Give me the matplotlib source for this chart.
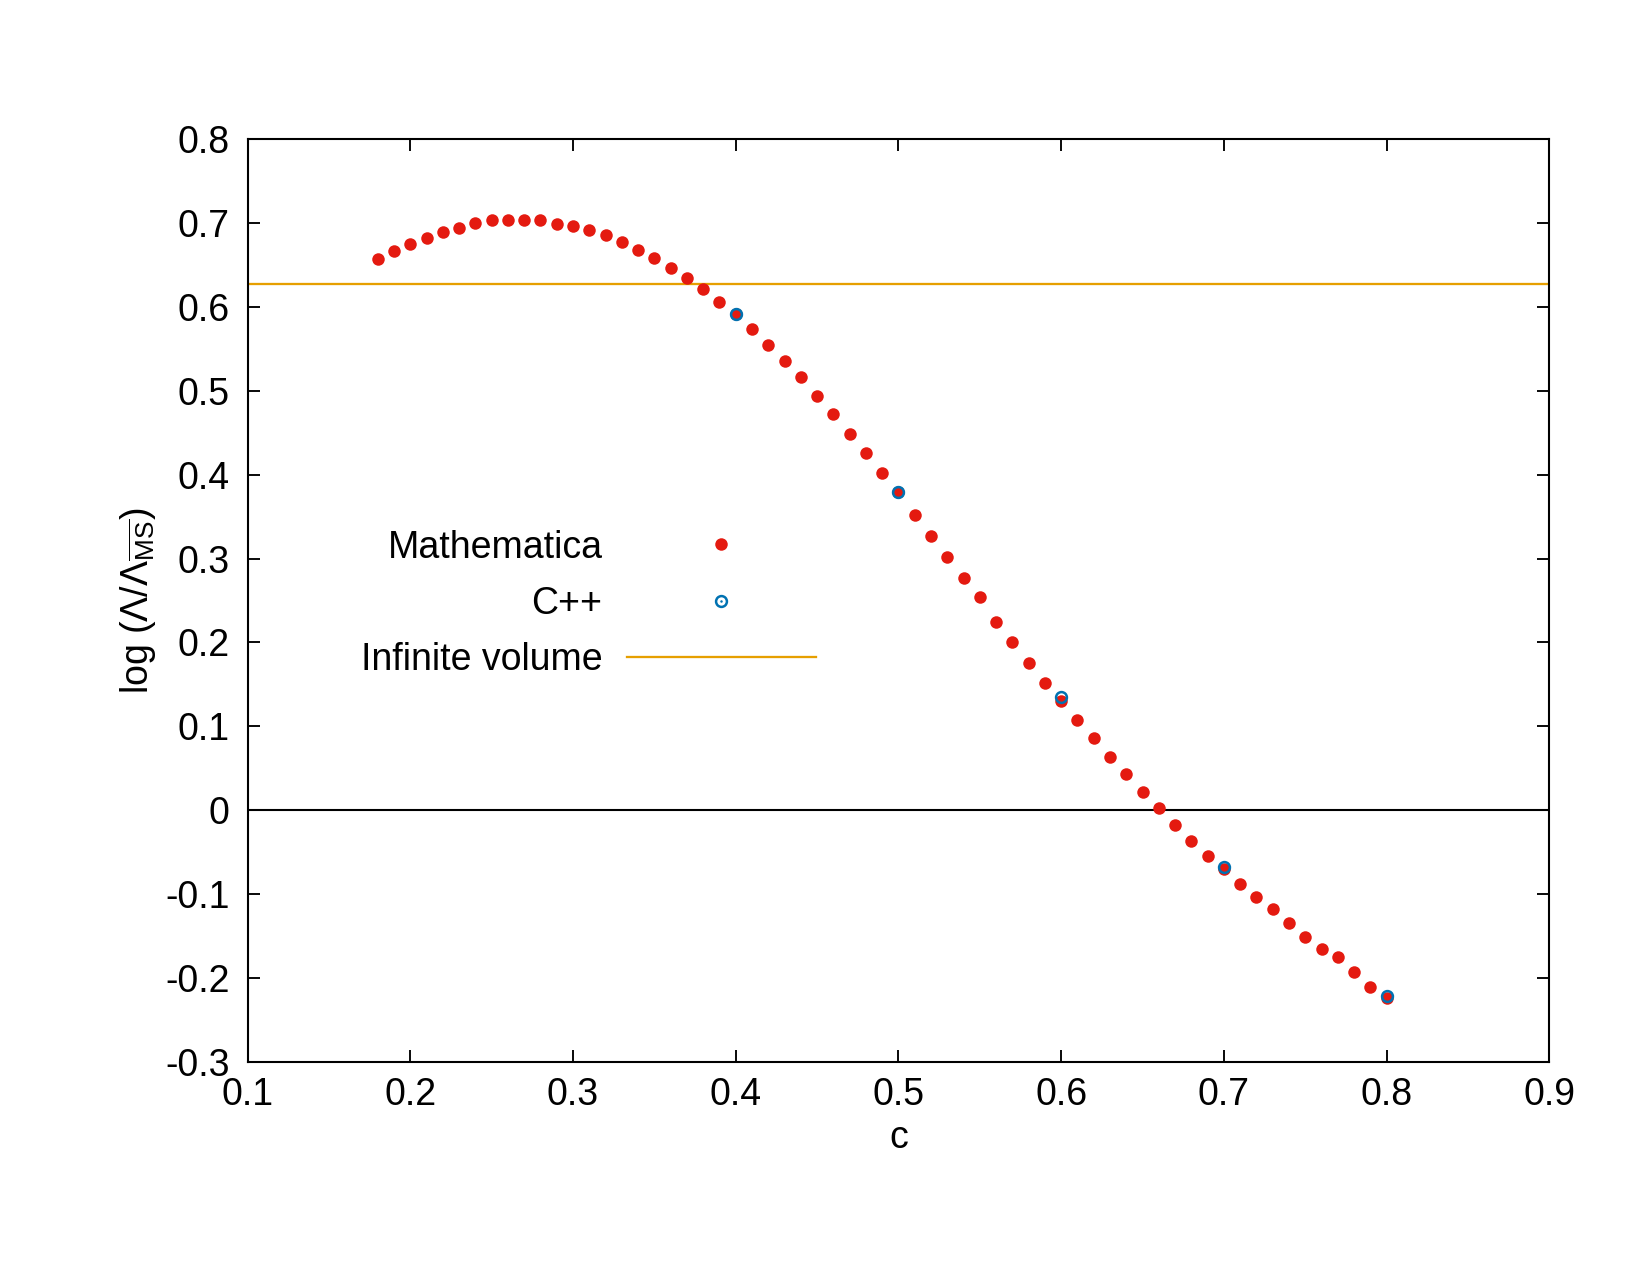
import matplotlib
matplotlib.use("Agg")
import matplotlib.pyplot as plt
from matplotlib.legend_handler import HandlerTuple

plt.rcParams['font.family'] = ['Liberation Sans', 'DejaVu Sans']
plt.rcParams['mathtext.fontset'] = 'custom'
plt.rcParams['mathtext.rm'] = 'Liberation Sans'
plt.rcParams['mathtext.it'] = 'Liberation Sans'
plt.rcParams['mathtext.bf'] = 'Liberation Sans'

# Mathematica data (c from 0.18 to 0.80, step 0.01)
c_math = [0.18, 0.19, 0.20, 0.21, 0.22, 0.23, 0.24, 0.25, 0.26, 0.27,
          0.28, 0.29, 0.30, 0.31, 0.32, 0.33, 0.34, 0.35, 0.36, 0.37,
          0.38, 0.39, 0.40, 0.41, 0.42, 0.43, 0.44, 0.45, 0.46, 0.47,
          0.48, 0.49, 0.50, 0.51, 0.52, 0.53, 0.54, 0.55, 0.56, 0.57,
          0.58, 0.59, 0.60, 0.61, 0.62, 0.63, 0.64, 0.65, 0.66, 0.67,
          0.68, 0.69, 0.70, 0.71, 0.72, 0.73, 0.74, 0.75, 0.76, 0.77,
          0.78, 0.79, 0.80]
y_math = [0.657, 0.666, 0.675, 0.682, 0.689, 0.694, 0.700, 0.703, 0.704, 0.704,
          0.703, 0.699, 0.696, 0.691, 0.685, 0.677, 0.668, 0.658, 0.646, 0.634,
          0.621, 0.606, 0.591, 0.574, 0.555, 0.536, 0.516, 0.494, 0.472, 0.449,
          0.426, 0.402, 0.379, 0.352, 0.327, 0.302, 0.277, 0.254, 0.225, 0.200,
          0.176, 0.152, 0.130, 0.108, 0.086, 0.064, 0.043, 0.022, 0.003, -0.018,
          -0.036, -0.055, -0.070, -0.088, -0.103, -0.117, -0.134, -0.151, -0.165, -0.175,
          -0.193, -0.210, -0.224]

# C++ data
c_cpp = [0.4, 0.5, 0.6, 0.7, 0.8]
y_cpp = [0.591, 0.379, 0.135, -0.067, -0.221]

# Infinite volume value
y_inf = 0.627

x_ticks = [0.1, 0.2, 0.3, 0.4, 0.5, 0.6, 0.7, 0.8, 0.9]
y_ticks = [-0.3, -0.2, -0.1, 0, 0.1, 0.2, 0.3, 0.4, 0.5, 0.6, 0.7, 0.8]
y_tick_labels = ['-0.3', '-0.2', '-0.1', '0', '0.1', '0.2', '0.3', '0.4', '0.5', '0.6', '0.7', '0.8']

RED = '#e41a10'
BLUE = '#0072b2'
ORANGE = '#e69f00'
FS = 18

fig = plt.figure(figsize=(11, 8.5), dpi=150)
ax = fig.add_axes([0.150, 0.167, 0.789, 0.724])

ax.axhline(0, color='black', lw=1.0, zorder=1)
h_math, = ax.plot(c_math, y_math, 'o', ls='none', color=RED, ms=6.0, mew=0, zorder=3)
h_cpp, = ax.plot(c_cpp, y_cpp, 'o', ls='none', mfc='none', mec=BLUE, ms=5.2, mew=1.2, zorder=4)
h_inf = ax.axhline(y_inf, color=ORANGE, lw=1.1, zorder=2)

ax.set_xlim(0.1, 0.9)
ax.set_ylim(-0.3, 0.8)
ax.set_xticks(x_ticks)
ax.set_xticklabels([f'{v:g}' for v in x_ticks])
ax.set_yticks(y_ticks)
ax.set_yticklabels(y_tick_labels)
ax.tick_params(direction='in', length=5.8, width=0.9, top=True, right=True,
               labelsize=FS)
ax.tick_params(axis='y', pad=8.5)
ax.tick_params(axis='x', pad=7)
for s in ax.spines.values():
    s.set_linewidth(1.0)

ax.set_xlabel('c', fontsize=FS, labelpad=3.5)
ax.set_ylabel(r'log ($\Lambda/\Lambda_{\overline{\rm MS}}$)', fontsize=FS, labelpad=3.5)

# legend handles
leg_cpp_dot, = ax.plot([], [], 'o', color=BLUE, ms=1.2, mew=0)
leg = ax.legend([h_math, (h_cpp, leg_cpp_dot), h_inf],
                ['Mathematica', 'C++', 'Infinite volume'],
                handler_map={tuple: HandlerTuple(ndivide=1, pad=0)},
                markerfirst=False, frameon=False, fontsize=FS,
                loc='center right', bbox_to_anchor=(0.451, 0.4965),
                borderpad=0, handlelength=5.05, handletextpad=0.64,
                labelspacing=0.54, markerscale=1.0)

fig.savefig('out.png', dpi=150)
